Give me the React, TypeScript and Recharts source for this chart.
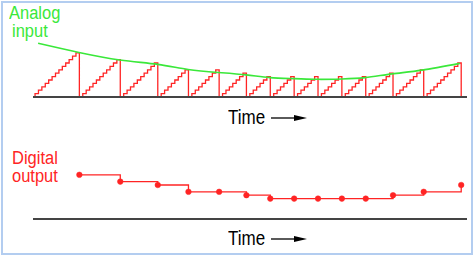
import React from 'react';
import { ComposedChart, Line, XAxis, YAxis, ReferenceLine } from 'recharts';

// counter levels reached in each conversion (one ramp per sample)
const rampLevels = [13, 11, 10, 8, 8, 7, 6, 6, 6, 6, 6, 7, 8, 10];

// analog input (time in clock ticks, value in counter steps)
const analogTime = [0.9, 12.9, 24.9, 36, 44.9, 53.7, 61.9, 68.9, 76, 83, 90, 96.8, 104.7, 113.5, 124.6];
const analogLevel = [15.8, 13.1, 10.9, 9.6, 8.1, 7.2, 6.5, 5.7, 5.4, 5.2, 5.3, 5.7, 6.8, 7.9, 9.9];

const W = 475;
const H = 256;
const RED = '#ff2424';
const GREEN = '#3ae83a';
const FONT = "'Liberation Sans', Arial, sans-serif";

// staircase ramps + sample points built from the levels
const rampData: { t: number; v: number }[] = [];
const samples: { t: number; v: number }[] = [];
let start = 0;
rampLevels.forEach((n) => {
  for (let k = 0; k <= n; k++) rampData.push({ t: start + k, v: k });
  rampData.push({ t: start + n, v: 0 });
  rampData.push({ t: start + n + 1, v: 0 });
  samples.push({ t: start + n, v: n });
  start += n + 1;
});

const analogData = analogTime.map((t, i) => ({ t, v: analogLevel[i] }));

const X_DOMAIN: [number, number] = [-0.6, 126.7];
const Y_DOMAIN: [number, number] = [0, 60 / 3.4];

function Word({ left, top, color, children }: { left: number; top: number; color: string; children: React.ReactNode }) {
  return (
    <div style={{
      position: 'absolute', left, top, fontFamily: FONT, fontSize: 16.5, lineHeight: '13px',
      color, transform: 'scaleY(1.1)', transformOrigin: 'left top', whiteSpace: 'nowrap',
    }}>
      {children}
    </div>
  );
}

function TimeLabel({ top }: { top: number }) {
  return (
    <div style={{ position: 'absolute', left: 228, top, display: 'flex', alignItems: 'center', fontFamily: FONT, fontSize: 17, color: '#000', lineHeight: '16px' }}>
      <span style={{ display: 'inline-block', transform: 'scaleY(1.15)' }}>Time</span>
      <svg width={40} height={12} style={{ marginLeft: 6 }}>
        <line x1={0} y1={6} x2={30} y2={6} stroke="#000" strokeWidth={1.3} />
        <polygon points="23,3 36,6 23,9" fill="#000" />
      </svg>
    </div>
  );
}

export default function App() {
  return (
    <div style={{ position: 'absolute', left: 0, top: 0, width: W, height: H, background: '#fff', overflow: 'hidden' }}>
      <div style={{ position: 'absolute', left: 1, top: 1, width: 468, height: 250, border: '2px solid #b3cdf0' }} />

      <div style={{ position: 'absolute', left: 0, top: 0 }}>
        <ComposedChart width={W} height={H} margin={{ top: 37, right: 8, bottom: H - 97, left: 33 }}>
          <XAxis type="number" dataKey="t" domain={X_DOMAIN} hide allowDataOverflow />
          <YAxis type="number" domain={Y_DOMAIN} hide />
          <Line data={rampData} dataKey="v" type="stepBefore" stroke={RED} strokeWidth={1.3} dot={false} activeDot={false} isAnimationActive={false} />
          <Line data={analogData} dataKey="v" type="natural" stroke={GREEN} strokeWidth={1.6} dot={false} activeDot={false} isAnimationActive={false} />
          <ReferenceLine y={0} stroke="#444" strokeWidth={1.8} />
        </ComposedChart>
      </div>

      <div style={{ position: 'absolute', left: 0, top: 0 }}>
        <ComposedChart width={W} height={H} margin={{ top: 159, right: 8, bottom: H - 219, left: 33 }}>
          <XAxis type="number" dataKey="t" domain={X_DOMAIN} hide allowDataOverflow />
          <YAxis type="number" domain={Y_DOMAIN} hide />
          <ReferenceLine y={0} stroke="#444" strokeWidth={1.8} />
          <Line data={samples} dataKey="v" type="stepAfter" stroke={RED} strokeWidth={1.3}
            dot={{ r: 2.8, fill: RED, stroke: RED, strokeWidth: 0.5 }} activeDot={false} isAnimationActive={false} />
        </ComposedChart>
      </div>

      <Word left={9} top={6} color={GREEN}>Analog</Word>
      <Word left={12} top={24} color={GREEN}>input</Word>
      <Word left={12} top={151} color={RED}>Digital</Word>
      <Word left={12} top={169} color={RED}>output</Word>

      <TimeLabel top={110} />
      <TimeLabel top={231} />
    </div>
  );
}
